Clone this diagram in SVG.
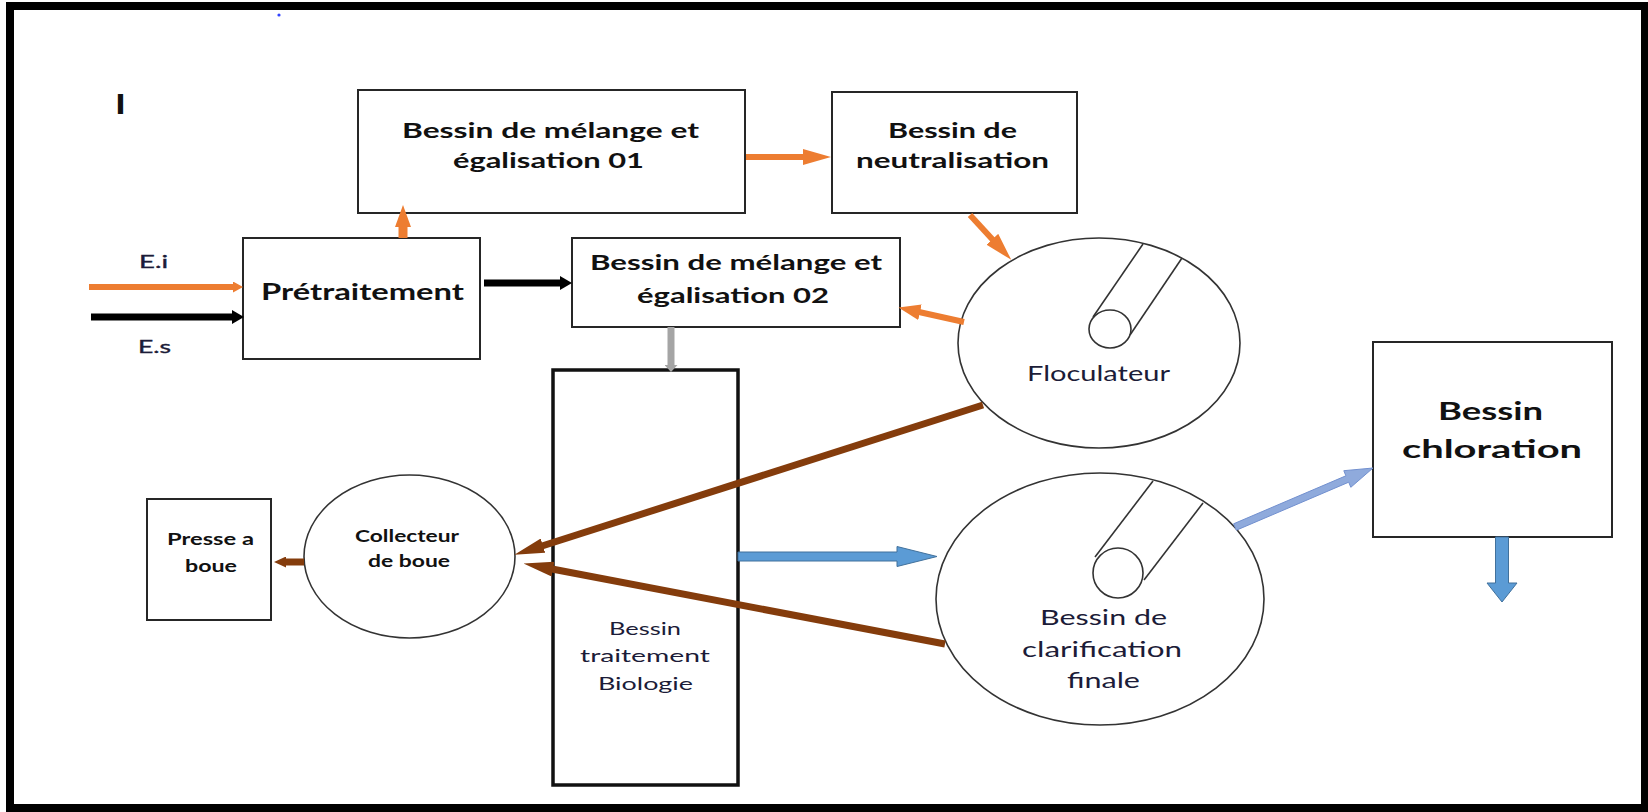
<svg xmlns="http://www.w3.org/2000/svg" width="1648" height="812" viewBox="0 0 1648 812">
<style>
.bx{fill:#fff;stroke:#262626;stroke-width:2}
.el{fill:#fff;stroke:#333;stroke-width:1.6}
.pipe{fill:none;stroke:#333;stroke-width:1.6}
.tb{font-family:Lato,"Liberation Sans",sans-serif;font-weight:bold;fill:#111;text-anchor:middle}
.tr{font-family:Lato,"Liberation Sans",sans-serif;font-weight:normal;fill:#1c1c38;text-anchor:middle}
.o{stroke:#ed7d31;stroke-width:6;fill:none}
.k{stroke:#000;stroke-width:7;fill:none}
.br{stroke:#843c0c;stroke-width:7;fill:none}
.gr{stroke:#a5a5a5;stroke-width:7;fill:none}
</style>
<defs>
<marker id="mO" markerUnits="userSpaceOnUse" markerWidth="28" markerHeight="16" refX="1" refY="8" orient="auto"><path d="M0,0 L28,8 L0,16 z" fill="#ed7d31"/></marker>
<marker id="mOm" markerUnits="userSpaceOnUse" markerWidth="22" markerHeight="16" refX="1" refY="8" orient="auto"><path d="M0,0 L22,8 L0,16 z" fill="#ed7d31"/></marker>
<marker id="mOs" markerUnits="userSpaceOnUse" markerWidth="10" markerHeight="11" refX="1" refY="5.5" orient="auto"><path d="M0,0 L10,5.5 L0,11 z" fill="#ed7d31"/></marker>
<marker id="mK" markerUnits="userSpaceOnUse" markerWidth="12" markerHeight="14" refX="1" refY="7" orient="auto"><path d="M0,0 L12,7 L0,14 z" fill="#000"/></marker>
<marker id="mBr" markerUnits="userSpaceOnUse" markerWidth="30" markerHeight="15" refX="1" refY="7.5" orient="auto"><path d="M0,0 L30,7.5 L0,15 z" fill="#843c0c"/></marker>
<marker id="mBrs" markerUnits="userSpaceOnUse" markerWidth="12" markerHeight="11" refX="1" refY="5.5" orient="auto"><path d="M0,0 L12,5.5 L0,11 z" fill="#843c0c"/></marker>
<marker id="mG" markerUnits="userSpaceOnUse" markerWidth="7" markerHeight="13" refX="1" refY="6.5" orient="auto"><path d="M0,0 L7,6.5 L0,13 z" fill="#a5a5a5"/></marker>
</defs>
<rect width="1648" height="812" fill="#fff"/>
<g id="frame">
<rect x="6" y="2" width="1642" height="8" fill="#000"/>
<rect x="6" y="2" width="8" height="810" fill="#000"/>
<rect x="6" y="804" width="1642" height="8" fill="#000"/>
<rect x="1641" y="2" width="7" height="810" fill="#000"/>
<circle cx="279" cy="15" r="1.6" fill="#3344ff"/>
<text x="120.5" y="113" class="tb" font-size="25" stroke="#111" stroke-width="1.8">I</text>
</g>
<g id="melange01">
<rect x="358" y="90" width="387" height="123" class="bx"/>
<text x="550.5" y="138" class="tb" font-size="21" textLength="297" lengthAdjust="spacingAndGlyphs">Bessin de mélange et</text>
<text x="548.5" y="168" class="tb" font-size="21" textLength="191" lengthAdjust="spacingAndGlyphs">égalisation 01</text>
</g>
<g id="neutralisation">
<rect x="832" y="92" width="245" height="121" class="bx"/>
<text x="952.5" y="138" class="tb" font-size="21" textLength="129" lengthAdjust="spacingAndGlyphs">Bessin de</text>
<text x="952.5" y="168" class="tb" font-size="21" textLength="193" lengthAdjust="spacingAndGlyphs">neutralisation</text>
</g>
<g id="pretraitement">
<rect x="243" y="238" width="237" height="121" class="bx"/>
<text x="362.5" y="300" class="tb" font-size="23.5" textLength="203" lengthAdjust="spacingAndGlyphs">Prétraitement</text>
</g>
<g id="labels-entree">
<text x="153.5" y="268" class="tr" font-size="18" stroke="#1c1c38" stroke-width="0.4" textLength="29" lengthAdjust="spacingAndGlyphs">E.i</text>
<text x="154.5" y="353" class="tr" font-size="18" stroke="#1c1c38" stroke-width="0.4" textLength="33" lengthAdjust="spacingAndGlyphs">E.s</text>
</g>
<g id="melange02">
<rect x="572" y="238" width="328" height="89" class="bx"/>
<text x="736" y="270" class="tb" font-size="21" textLength="292" lengthAdjust="spacingAndGlyphs">Bessin de mélange et</text>
<text x="733" y="303" class="tb" font-size="21" textLength="192" lengthAdjust="spacingAndGlyphs">égalisation 02</text>
</g>
<g id="floculateur">
<ellipse cx="1099" cy="343" rx="141" ry="105" class="el"/>
<ellipse cx="1110" cy="329" rx="21" ry="19" class="pipe"/>
<line x1="1093" y1="317" x2="1143" y2="244" class="pipe"/>
<line x1="1130" y1="335" x2="1182" y2="258" class="pipe"/>
<text x="1098.5" y="381" class="tr" font-size="22" textLength="143" lengthAdjust="spacingAndGlyphs">Floculateur</text>
</g>
<g id="biologie">
<rect x="553" y="370" width="185" height="415" fill="#fff" stroke="#111" stroke-width="3.5"/>
<text x="645" y="635" class="tr" font-size="18" textLength="72" lengthAdjust="spacingAndGlyphs">Bessin</text>
<text x="645" y="662" class="tr" font-size="18" textLength="130" lengthAdjust="spacingAndGlyphs">traitement</text>
<text x="645.5" y="690" class="tr" font-size="18" textLength="95" lengthAdjust="spacingAndGlyphs">Biologie</text>
</g>
<g id="clarification">
<ellipse cx="1100" cy="599" rx="164" ry="126" class="el"/>
<circle cx="1118" cy="573" r="25" class="pipe"/>
<line x1="1095" y1="557" x2="1153" y2="481" class="pipe"/>
<line x1="1144" y1="580" x2="1203" y2="503" class="pipe"/>
<text x="1103.5" y="625" class="tr" font-size="21" textLength="127" lengthAdjust="spacingAndGlyphs">Bessin de</text>
<text x="1102" y="657" class="tr" font-size="21" textLength="160" lengthAdjust="spacingAndGlyphs">clarification</text>
<text x="1103.5" y="688" class="tr" font-size="21" textLength="73" lengthAdjust="spacingAndGlyphs">finale</text>
</g>
<g id="collecteur">
<ellipse cx="409.5" cy="556.5" rx="105.5" ry="81.5" class="el"/>
<text x="407" y="542" class="tb" font-size="17" textLength="104" lengthAdjust="spacingAndGlyphs">Collecteur</text>
<text x="409" y="567" class="tb" font-size="17" textLength="82" lengthAdjust="spacingAndGlyphs">de boue</text>
</g>
<g id="presse">
<rect x="147" y="499" width="124" height="121" class="bx"/>
<text x="210.5" y="545" class="tb" font-size="17" textLength="87" lengthAdjust="spacingAndGlyphs">Presse a</text>
<text x="211" y="572" class="tb" font-size="17" textLength="52" lengthAdjust="spacingAndGlyphs">boue</text>
</g>
<g id="chloration">
<rect x="1373" y="342" width="239" height="195" class="bx"/>
<text x="1490.5" y="420" class="tb" font-size="25" textLength="105" lengthAdjust="spacingAndGlyphs">Bessin</text>
<text x="1492" y="458" class="tb" font-size="25" textLength="180" lengthAdjust="spacingAndGlyphs">chloration</text>
</g>
<g id="connectors">
<line x1="89" y1="287" x2="234" y2="287" class="o" marker-end="url(#mOs)"/>
<line x1="91" y1="317" x2="233" y2="317" class="k" stroke-width="8" marker-end="url(#mK)"/>
<line x1="403" y1="238" x2="403" y2="226" stroke="#ed7d31" stroke-width="9" marker-end="url(#mOm)"/>
<line x1="484" y1="283" x2="561" y2="283" class="k" marker-end="url(#mK)"/>
<line x1="746" y1="157" x2="804" y2="157" class="o" marker-end="url(#mO)"/>
<line x1="970" y1="215" x2="993" y2="240" class="o" marker-end="url(#mO)"/>
<line x1="964" y1="322" x2="919" y2="312" class="o" marker-end="url(#mOm)"/>
<line x1="671" y1="327" x2="671" y2="366" class="gr" marker-end="url(#mG)"/>
<line x1="983" y1="405" x2="542" y2="546" class="br" marker-end="url(#mBr)"/>
<line x1="945" y1="644" x2="552" y2="569" class="br" marker-end="url(#mBr)"/>
<line x1="304" y1="562" x2="285" y2="562" class="br" marker-end="url(#mBrs)"/>
<path d="M738,552 L897,552 L897,546.5 L937,556.5 L897,566.5 L897,561 L738,561 Z" fill="#5b9bd5" stroke="#41719c" stroke-width="1"/>
<path d="M1236.4,530.2 L1348.7,482.2 L1350.8,487.3 L1373,468 L1343.8,470.7 L1345.9,475.8 L1233.6,523.8 Z" fill="#8faadc" stroke="#7290cf" stroke-width="1"/>
<path d="M1495.5,537 L1508.5,537 L1508.5,583 L1517,583 L1502,602 L1487,583 L1495.5,583 Z" fill="#5b9bd5" stroke="#41719c" stroke-width="1"/>
</g>
</svg>
